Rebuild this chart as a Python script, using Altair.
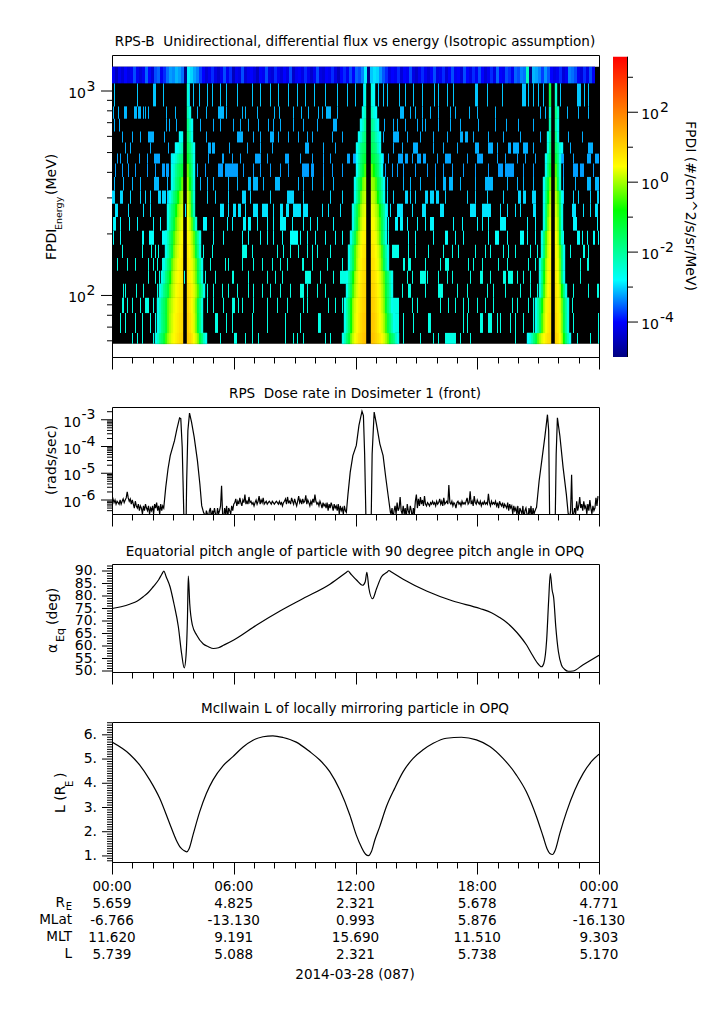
import altair as alt
import pandas as pd

alt.data_transformers.disable_max_rows()

FONT = "DejaVu Sans"
W = 487
BIN_H = 24 / 487

# ---------- energy channels (MeV), bottom to top ----------
ENERGY_EDGES = [58, 65.6, 82, 97.4, 114, 132, 152.4, 177, 207.5, 242, 281, 326, 380, 442, 494, 560, 634, 732, 841, 1090, 1315]
NOISE_LOG = [-2.5, -2.5, -2.5, -2.5, -2.5, -2.5, -2.55, -2.75, -2.85, -3.0, -3.1, -3.3, -3.45, -3.4, -3.35, -3.35, -3.35, -3.3, -3.2]

# single-count columns per channel: ints or (first,last) runs
SPIKES = [
 [20,25,30,41,108,(122,124),133,140,146,173,181,185,191,213,218,286,291,308,321,326,(333,343),348,358,403,465,478,486],
 [8,13,23,30,38,43,(103,105),114,120,140,155,173,188,(206,208),(283,286),291,301,(316,318),351,355,(368,370),(376,379),385,388,398,403,411,421,461,486],
 [(10,11),15,20,28,(33,36),41,95,101,111,(120,122),126,130,141,155,165,175,191,195,216,223,230,(281,286),300,305,328,336,343,351,356,365,373,381,400,405,416,421,460],
 [11,13,24,31,45,95,101,110,116,125,136,141,150,158,168,178,(188,191),195,205,213,290,(296,298),313,(326,330),345,355,375,381,393,408,418,425,461,476,(485,486)],
 [36,43,47,72,93,103,(120,121),136,155,163,170,(193,198),208,221,(228,233),295,300,(308,313),315,326,335,340,358,(368,370),378,(391,393),(396,400),405,411,418,468],
 [5,15,23,36,41,45,50,98,113,116,130,141,150,160,168,175,(190,191),200,215,230,(291,292),(296,298),313,328,(333,336),356,361,370,386,395,416,423,468,(475,476)],
 [10,30,39,43,46,91,100,(130,134),140,165,171,178,186,195,200,205,218,(280,286),296,303,316,331,340,346,363,373,378,391,396,403,418,425,458,(471,472),476],
 [1,8,(30,31),(37,41),(50,55),101,111,130,136,148,155,161,170,(178,185),188,195,203,213,223,230,276,296,303,321,(333,335),343,351,376,(383,386),395,(408,411),415,423,451,(465,467),470,475,(481,482),486],
 [(1,3),8,17,25,41,48,(91,94),101,115,120,(131,133),(136,138),145,155,161,(168,173),180,191,198,205,221,276,(283,285),(288,290),295,305,313,(318,321),341,350,365,370,376,(388,393),415,423,(461,464),485],
 [(3,5),16,31,38,55,73,(108,111),116,(121,123),(126,128),133,(141,145),(150,155),161,(168,170),(174,176),(181,188),(191,195),210,216,228,275,278,(285,290),300,(310,313),(328,331),(358,363),(370,378),388,395,403,408,(421,423),(460,463),471,478,(483,485)],
 [(0,2),(8,10),18,28,33,38,(46,48),(50,53),(55,56),95,103,116,(130,133),138,158,(175,181),191,218,230,275,281,(293,295),298,303,(313,315),(318,321),(324,326),333,355,363,375,391,(406,408),(411,413),(420,423),451,461,466,478,(485,486)],
 [2,11,20,28,(42,46),55,88,95,101,116,125,(136,138),(141,145),151,(163,167),186,191,200,211,221,275,291,298,308,323,(331,333),(337,340),348,363,(373,380),395,405,411,421,451,463,(475,478),(483,486)],
 [3,10,16,23,35,43,(50,52),(54,56),85,93,(106,110),(113,125),131,141,148,158,168,176,(190,196),(199,201),211,220,230,273,280,285,291,303,315,323,331,340,351,363,376,(386,390),(393,401),411,421,451,(461,465),(468,471),481],
 [5,8,15,27,35,(42,47),96,(110,111),120,128,(143,148),155,(173,176),188,200,211,218,(235,237),(241,245),271,276,(286,290),(293,295),300,(305,308),(311,313),325,(333,338),355,(365,370),385,393,405,413,423,(448,451),461,(475,478),(483,486)],
 [13,18,38,56,(96,98),(100,102),117,135,148,160,(193,196),211,223,281,290,(301,305),321,331,345,(363,366),(376,380),385,(396,398),(401,406),(411,415),421,458,(476,480)],
 [10,20,28,(36,41),52,94,(125,130),141,148,(158,161),166,176,186,195,200,220,230,271,(281,286),295,308,321,335,(348,350),(353,355),361,376,391,408,428,456,470],
 [2,7,54,57,64,88,101,108,121,128,136,146,156,161,168,181,191,205,(221,224),266,272,281,285,293,305,310,313,326,338,348,366,383,394,406,421],
 [1,6,(12,14),(22,24),(26,28),31,33,36,54,63,85,94,(106,111),114,130,133,145,162,167,181,189,196,206,210,(214,218),225,(288,291),298,303,310,318,326,338,343,357,365,383,428,433,455,466,476],
 [2,25,(41,43),51,77,81,87,95,100,108,114,125,140,148,158,166,176,185,193,202,213,225,235,243,251,262,266,271,275,287,293,301,310,322,326,335,341,(363,365),375,390,(410,413),416,421,426,431,443,448,(465,468),472,476],
]

# top channel, one value per 3 columns (log10 flux)
TOP_ROW = [
 -4.1,-4.5,-4.1,-4.3,-4.0,-4.2,-4.1,-3.85,-4.1,-4.3,-4.1,-3.75,-4.0,-4.3,-3.85,-3.75,-4.1,-3.95,
 -3.7,-3.45,-3.55,-3.3,-3.45,-3.7,-5.0,-2.9,-3.1,-3.4,-3.6,-3.9,-4.0,
 -4.3,-4.1,-3.95,-4.2,-4.4,-4.1,-3.85,-4.1,-3.95,-4.5,-4.1,-4.2,-3.85,-4.3,-4.1,-4.0,-4.2,-4.5,-4.0,-4.1,-3.85,-4.2,-4.3,-3.95,-4.1,
 -4.3,-4.0,-4.2,-3.85,-4.4,-4.1,-4.0,-4.2,-3.95,-4.1,-4.4,-4.1,-3.85,-4.2,-4.3,-4.0,-4.1,-3.95,-4.2,-4.5,-4.0,-3.95,-4.1,-3.85,-4.0,-3.75,-3.85,-3.6,
 -2.9,-5.0,-3.2,-3.0,-3.1,-3.5,-3.8,-3.95,-4.2,-4.0,-4.1,-3.95,-4.3,-4.0,-4.1,-3.85,-4.2,-4.4,-4.1,-3.95,-4.1,-4.3,-4.0,-3.85,-4.2,-4.1,-3.95,-4.3,-4.0,-3.85,-4.1,-4.0,-4.3,-3.85,-4.0,-4.2,-3.95,-4.1,-3.85,-4.0,-4.3,-4.1,-3.95,-4.2,-3.75,-4.0,-4.1,-3.85,-3.95,-4.1,-3.75,-3.85,
 -3.6,-3.7,-2.2,-5.0,-3.3,-3.4,-3.6,-3.9,-3.5,-3.8,-4.0,-4.2,-4.1,-3.95,-4.3,-4.1,-3.6,-3.7,-3.85,-4.1,-4.3,-3.95,-4.2,-3.85,-4.1,
]

# belt flanks: from the perigee gap outwards, 2 columns per value, channel by channel from the bottom
P1_L = [
 [1.2,1.1,.9,.7,.5,.3,0,-.3,-.7,-1,-1.4,-1.8,-2.2,-2.6],
 [1.1,1,.8,.6,.4,.1,-.2,-.6,-1,-1.4,-1.8,-2.2,-2.6],
 [1,.9,.7,.5,.3,0,-.3,-.6,-1,-1.4,-1.8,-2.2,-2.6],
 [.9,.8,.6,.4,.1,-.2,-.6,-1,-1.4,-1.8,-2.2,-2.6],
 [.9,.7,.5,.3,0,-.4,-.8,-1.2,-1.7,-2.2,-2.6],
 [.8,.6,.4,.1,-.2,-.6,-1.1,-1.6,-2.1,-2.6],
 [.7,.5,.2,-.1,-.5,-1,-1.5,-2.1,-2.6],
 [.5,.3,0,-.3,-.7,-1.1,-1.6,-2.1,-2.6],
 [.3,.1,-.2,-.6,-1,-1.5,-2,-2.6],
 [.1,-.1,-.4,-.8,-1.2,-1.6,-2.1,-2.6],
 [-.2,-.4,-.8,-1.2,-1.6,-2.1,-2.6],
 [-.6,-.9,-1.3,-1.7,-2.2,-2.7],
 [-1,-1.2,-1.5,-1.9,-2.3,-2.7],
 [-1.6,-1.8,-2,-2.3,-2.6,-2.9],
 [-2.1,-2.3,-2.6,-2.8],
 [-2.6,-2.8],
 [],[],[],
]
P1_R = [
 [1.4,1.2,.9,.5,.1,-.4,-1,-1.6,-2.2,-2.7],
 [1.3,1,.6,.2,-.4,-1,-1.7,-2.4],
 [1.2,.9,.5,.1,-.5,-1.1,-1.8,-2.5],
 [1.1,.9,.6,.2,-.2,-.7,-1.3,-1.9,-2.6],
 [1,.7,.4,0,-.5,-1.1,-1.8,-2.5],
 [.9,.6,.3,-.1,-.6,-1.2,-1.9,-2.6],
 [.8,.5,.1,-.4,-1,-1.7,-2.5],
 [.6,.3,-.1,-.6,-1.2,-1.9,-2.6],
 [.4,0,-.6,-1.4,-2.4],
 [.2,-.3,-1.1,-2.2],
 [0,-.5,-1.3,-2.4],
 [-.3,-.8,-1.5,-2.5],
 [-.6,-1,-1.7,-2.6],
 [-.9,-1.3,-1.9,-2.6],
 [-1.2,-1.6,-2.1,-2.7],
 [-1.5,-2,-2.6],
 [-1.8,-2.2,-2.7],
 [-2.1,-2.6],
 [-2.4],
]
P2_L = [
 [1.5,1.4,1.2,1,.7,.4,0,-.5,-1,-1.5,-2.1,-2.6],
 [1.4,1.3,1.1,.8,.5,.2,-.3,-.8,-1.4,-2,-2.6],
 [1.3,1.2,1,.7,.4,.1,-.3,-.8,-1.4,-2,-2.6],
 [1.2,1.1,.9,.6,.2,-.2,-.7,-1.3,-1.9,-2.6],
 [1.1,1,.8,.5,.1,-.3,-.8,-1.4,-2,-2.6],
 [1,.9,.6,.3,-.1,-.7,-1.3,-2,-2.6],
 [.9,.8,.5,.2,-.2,-.7,-1.3,-2,-2.6],
 [.7,.6,.3,-.1,-.6,-1.2,-1.9,-2.6],
 [.5,.3,0,-.5,-1.1,-1.8,-2.6],
 [.3,.1,-.2,-.7,-1.2,-1.9,-2.6],
 [0,-.2,-.6,-1.2,-1.9,-2.6],
 [-.3,-.5,-.9,-1.4,-2,-2.7],
 [-.7,-1,-1.4,-2,-2.7],
 [-1,-1.2,-1.6,-2.1,-2.7],
 [-1.3,-1.5,-1.8,-2.2,-2.7],
 [-1.6,-1.9,-2.3,-2.7],
 [-1.9,-2.3,-2.7],
 [-2.2,-2.6],
 [-2.5],
]
P2_R = [
 [1.5,1.4,1.2,1,.8,.5,.2,-.2,-.6,-1,-1.4,-1.8,-2.2,-2.6],
 [1.4,1.3,1.1,.8,.5,.2,-.2,-.7,-1.1,-1.6,-2.1,-2.6],
 [1.3,1.2,1,.7,.4,0,-.4,-.9,-1.5,-2,-2.6],
 [1.2,1.1,.9,.6,.3,-.1,-.5,-1,-1.5,-2,-2.6],
 [1.1,1,.8,.5,.2,-.2,-.6,-1.1,-1.6,-2.1,-2.6],
 [1,.9,.6,.3,-.1,-.6,-1.2,-1.9,-2.6],
 [.9,.8,.5,.2,-.2,-.7,-1.3,-2,-2.6],
 [.7,.6,.3,-.1,-.6,-1.2,-1.9,-2.6],
 [.5,.4,.1,-.3,-.7,-1.2,-1.9,-2.6],
 [.3,.2,-.1,-.4,-.8,-1.3,-1.9,-2.6],
 [0,-.1,-.4,-.8,-1.3,-1.9,-2.6],
 [-.3,-.4,-.7,-1.1,-1.5,-2.1,-2.7],
 [-.6,-.8,-1.1,-1.5,-2.1,-2.7],
 [-1,-1.1,-1.4,-1.8,-2.2,-2.7],
 [-1.3,-1.5,-1.8,-2.2,-2.7],
 [-1.6,-1.8,-2.1,-2.4,-2.8],
 [-1.9,-2.1,-2.4,-2.8],
 [-2.2,-2.5,-2.8],
 [-2.5,-2.8],
]
P3_L = [
 [1.1,1,.8,.5,.2,-.2,-.6,-1.1,-1.6,-2.1,-2.5,-2.8],
 [1,.8,.4,-.1,-.7,-1.3,-2,-2.6],
 [.9,.7,.3,-.2,-.8,-1.4,-2,-2.6],
 [.8,.5,0,-.7,-1.6,-2.5],
 [.7,.4,-.1,-.8,-1.7,-2.6],
 [.6,.3,-.2,-.9,-1.7,-2.6],
 [.5,.1,-.6,-1.5,-2.5],
 [.4,0,-.7,-1.6,-2.6],
 [.2,-.4,-1.3,-2.5],
 [0,-.6,-1.4,-2.5],
 [-.2,-.8,-1.6,-2.6],
 [-.5,-1,-1.8,-2.7],
 [-.9,-1.6,-2.6],
 [-1.3,-1.9,-2.7],
 [-1.6,-2.5],
 [-1.9,-2.6],
 [-2.1],
 [-2.3],
 [-1.2],
]
P3_R = [
 [1.2,1,.5,-.1,-.8,-1.5,-2.1,-2.7],
 [1.1,.8,.3,-.4,-1.1,-1.9,-2.6],
 [1,.7,.2,-.5,-1.2,-1.9,-2.6],
 [.9,.6,0,-.8,-1.7,-2.6],
 [.8,.4,-.4,-1.5,-2.6],
 [.7,.3,-.5,-1.6,-2.6],
 [.6,.2,-.6,-1.6,-2.6],
 [.5,0,-1,-2.4],
 [.3,-.2,-1.2,-2.5],
 [.1,-.4,-1.3,-2.5],
 [-.1,-.6,-1.4,-2.6],
 [-.4,-1.1,-2.4],
 [-.7,-1.4,-2.5],
 [-1,-1.6,-2.6],
 [-1.4,-1.9,-2.4,-2.8],
 [-1.7,-2.5],
 [-2,-2.6],
 [-1.8,-2.3],
 [-2.3],
]
GAP_1 = [71, 75]
GAP_2 = [254, 259]
GAP_3 = [439, 443]

COLOR_VALUES = [-5, -4, -2.8, -1.8, -0.8, 0.45, 3.59]
COLOR_RANGE = ["#000080", "#0000ff", "#00ffff", "#00ff80", "#00ff00", "#ffff00", "#ff0000"]
CBAR_OFFSETS = [0, 0.1164, 0.2561, 0.3725, 0.4889, 0.6345, 1]

# ---------- dosimeter (1e-6 rads/s every 0.05 h outside the belts) ----------
NOISE_A = [1.5,1.1,.8,1,.7,.9,.8,.7,1,.7,.9,1.1,.8,1,1.2,2,1.2,.9,1.1,.7,1,.7,.5,.9,.6,.5,.7,.4,.6,.5,.3,.6,.4,.7,.5,.4,.6,.3,.5,.4,.6,.3,.7,.5,.8,.4,.6,.3,.7,.4,.6,.5]
NOISE_B = [.3,.2,.4,.3,.2,.4,.5,.2,.4,.3,.5,.3,.2,.5,.3,.4,.6,3.4,.3,.2,.5,.3,.6,.2,.5,.4,.3,.6,.4,.7,
 .8,1.1,.6,.9,.7,1.2,.8,.6,1,.8,1.6,.7,.9,.7,1.3,.8,.9,.7,.8,.6,.8,1,.7,.9,1.4,.7,1,.8,1.2,.7,.8,.9,.7,.8,.9,.8,.7,.9,.8,.7,.8,.9,.8,.7,.9,.7,.8,.6,.8,.9,1.1,.7,1.3,.8,.9,.7,1.2,.9,.7,1.1,.8,.6,.9,1.4,.8,1,.7,1.1,.8,.9,1.5,.7,1,.8,.6,.9,.7,1.1,.8,1.6,.9,.7,.8,.6,.9,.7,.5,.8,.6,.7,.5,.8,.4,.7,.5,.8,.6,.4,.7,.5,
 .6,.4,.7,.3,.6,.4,.5,.3,.6,.4]
NOISE_C = [.3,.5,.2,.4,.6,.3,.8,.4,.5,1.3,.4,.3,.6,.3,.5,.2,.7,.4,.3,.6,.4,.2,.5,.3,.9,
 1.6,.5,1.1,.6,1.3,.7,1,.6,1.4,.7,.6,.8,.7,.6,.8,.7,.9,.7,.8,.6,.9,.7,.8,1.1,.7,.9,.6,1.2,.7,.8,.9,.7,3.6,.8,.7,.9,.6,.8,.7,.5,.8,.9,.7,.8,.6,.9,.7,.8,.7,.9,1.2,.7,.8,2.1,.7,.9,.6,1.4,.8,.7,1,.8,.7,.9,.6,.8,.7,.9,.7,.8,.7,1.7,.8,.6,.9,.7,.8,.7,.9,.6,.8,.5,.9,.7,.6,.8,.5,.7,.6,.5,.8,.4,.7,.5,.6,
 .3,.6,.4,.5,.3,.6,.2,.5,.4,.3,.6,.2,.4,.5,.3,.2,.5,.3,.6,.2,.5,.3,.4,.5]
NOISE_D = [.3,.2,.4,8.7,.2,.3,.5,.3,.9,.4,.6,1.3,.5,.7,.4,.9,.5,.6,.3,.7,.4,1,.5,.3,.6,.4,.5,1.2,.6,1.4]
NOISE_STARTS = [0.0, 4.55, 13.75, 22.5]
BELT_H = [2.65,2.76,2.87,3.08,3.20,3.33,3.39,3.46,3.50,3.55,3.65,3.68,3.74,3.82,3.92,4.05,4.21,4.33,4.42,4.51,
 11.55,11.63,11.74,11.87,12.04,12.17,12.32,12.39,12.45,12.52,12.77,12.82,12.92,13.03,13.2,13.36,13.49,13.61,13.72,
 20.92,21.05,21.18,21.33,21.46,21.52,21.57,21.84,21.89,21.95,22.07,22.23,22.39,22.48]
BELT_LOG = [-5.52,-4.84,-4.34,-3.78,-3.34,-2.93,-2.96,-4.03,-5.28,-6.9,-6.9,-5.28,-3.4,-2.75,-3.09,-3.65,-4.53,-5.4,-6.21,-6.46,
 -6.46,-5.78,-4.96,-4.34,-3.96,-3.21,-2.68,-2.84,-4.28,-6.9,-6.9,-4.28,-2.71,-3.15,-3.9,-4.34,-5.15,-5.84,-6.46,
 -6.28,-5.28,-4.53,-3.65,-2.81,-3.4,-6.9,-6.9,-4.28,-2.93,-3.59,-4.78,-5.78,-6.5]

# ---------- pitch angle ----------
PA_H = [0,.45,.9,1.25,1.54,1.8,2.03,2.3,2.46,2.56,2.66,2.86,3.05,3.27,3.43,3.56,3.65,3.72,3.76,3.83,3.96,4.17,4.5,4.75,5,5.25,5.5,6,7.13,8.28,9.42,10.74,11.54,11.64,11.74,12.05,12.35,12.48,12.56,12.66,12.84,13.04,13.28,13.55,13.65,13.75,14.35,15.5,16.8,18.13,18.7,19.1,19.45,19.77,20.1,20.43,20.7,20.92,21.17,21.28,21.42,21.52,21.6,21.69,21.77,21.87,22,22.15,22.3,22.48,22.72,23.2,24]
PA_V = [75,75.7,76.8,78,79.7,81.5,83.7,86.5,88.8,90,87.9,83.7,77,67.7,57,51.2,56.4,71.7,88,77,68.4,64.4,60.8,59.7,59,59.3,60.3,62.4,68.4,74,79,84.7,89.4,90,89.1,86.4,84.3,85.7,89.5,83.1,78.9,83,87.7,89.5,90.2,89.7,86.7,82,78,75,73.3,71.4,69.4,67,64,60.4,56.6,53.7,51.7,53,62.4,78.4,89,82.4,79,67.7,57.7,52.4,50.7,49.9,50,52.4,56.3]

# ---------- McIlwain L ----------
L_H = [0,.87,1.36,1.86,2.35,2.84,3.17,3.37,3.53,3.68,3.8,3.99,4.32,4.65,4.98,5.47,5.96,6.46,6.95,7.44,7.93,8.43,9.08,9.74,10.24,10.73,11.23,11.72,12.04,12.29,12.5,12.64,12.78,12.95,13.19,13.52,13.93,14.35,14.84,15.33,15.83,16.48,17.22,17.96,18.62,19.27,19.93,20.42,20.92,21.25,21.44,21.58,21.71,21.84,22.07,22.4,22.81,23.22,23.63,24]
L_V = [5.7,5.2,4.76,4.14,3.38,2.34,1.65,1.35,1.23,1.17,1.3,1.86,2.82,3.58,4.14,4.72,5.1,5.5,5.78,5.92,5.96,5.89,5.7,5.31,4.96,4.48,3.72,2.69,1.86,1.37,1.07,1.01,1.17,1.65,2.2,3.03,3.79,4.48,5.03,5.38,5.65,5.86,5.9,5.79,5.52,5.03,4.34,3.65,2.62,1.79,1.3,1.1,1.06,1.23,1.93,2.82,3.72,4.41,4.9,5.2]

# ---------- annotation rows ----------
HOUR_MAJOR = [0, 6, 12, 18, 24]
HOUR_MINOR = [1,2,3,4,5,7,8,9,10,11,13,14,15,16,17,19,20,21,22,23]
ROW_H = [0, 6, 12, 18, 24]
ROW_TIME = ["00:00", "06:00", "12:00", "18:00", "00:00"]
ROW_RE = ["5.659", "4.825", "2.321", "5.678", "4.771"]
ROW_MLAT = ["-6.766", "-13.130", "0.993", "5.876", "-16.130"]
ROW_MLT = ["11.620", "9.191", "15.690", "11.510", "9.303"]
ROW_L = ["5.739", "5.088", "2.321", "5.738", "5.170"]

E_MINOR = [60,70,80,90,200,300,400,500,600,700,800,900]
E_MAJOR = [100, 1000]
E_EXP = ["2", "3"]
CB_MINOR = [-3,-1,1,3]
CB_MAJOR = [-4,-2,0,2]
CB_EXP = ["-4","-2","0","2"]
D_MINOR = [4e-7,5e-7,6e-7,7e-7,8e-7,9e-7,2e-6,3e-6,4e-6,5e-6,6e-6,7e-6,8e-6,9e-6,2e-5,3e-5,4e-5,5e-5,6e-5,7e-5,8e-5,9e-5,2e-4,3e-4,4e-4,5e-4,6e-4,7e-4,8e-4,9e-4,2e-3]
D_MAJOR = [1e-6,1e-5,1e-4,1e-3]
D_EXP = ["-6","-5","-4","-3"]
PA_MAJOR = [50,55,60,65,70,75,80,85,90]
PA_LABELS = ["50.","55.","60.","65.","70.","75.","80.","85.","90."]
PA_MINOR = [51,52,53,54,56,57,58,59,61,62,63,64,66,67,68,69,71,72,73,74,76,77,78,79,81,82,83,84,86,87,88,89,91,92]
L_MAJOR = [1,2,3,4,5,6]
L_LABELS = ["1.","2.","3.","4.","5.","6."]
L_MINOR = [.8,.9,1.1,1.2,1.3,1.4,1.5,1.6,1.7,1.8,1.9,2.1,2.2,2.3,2.4,2.5,2.6,2.7,2.8,2.9,3.1,3.2,3.3,3.4,3.5,3.6,3.7,3.8,3.9,4.1,4.2,4.3,4.4,4.5,4.6,4.7,4.8,4.9,5.1,5.2,5.3,5.4,5.5,5.6,5.7,5.8,5.9,6.1,6.2,6.3,6.4,6.5]

XS = alt.Scale(domain=[0, 24], nice=False, zero=False)
def xenc():
    return alt.X("t:Q", scale=XS, axis=alt.Axis(values=HOUR_MAJOR, labels=False, title=None, grid=False, orient="bottom", tickSize=12, ticks=True))

def ghost():
    """Invisible mark that only carries the short (minor) ticks of the time axis."""
    df = pd.DataFrame({"t": [12]})
    return alt.Chart(df).mark_point(opacity=0).encode(
        x=alt.X("t:Q", scale=XS, axis=alt.Axis(values=HOUR_MINOR, labels=False, title=None, grid=False, orient="bottom", tickSize=6, domain=False, ticks=True)),
        y=alt.value(0))

def yticks(scale, values, x0, x1):
    return alt.Chart(pd.DataFrame({"v": values})).mark_rule(color="black", strokeWidth=1).encode(
        x=alt.value(x0), x2=alt.value(x1), y=alt.Y("v:Q", scale=scale, axis=None))

def text(s, x, y, size=13.55, align="center", angle=0):
    return alt.Chart(pd.DataFrame({"s": [s]})).mark_text(font=FONT, fontSize=size, align=align, baseline="middle",
        angle=angle, color="black").encode(x=alt.value(x), y=alt.value(y), text="s:N")

def ylabels(values, labels, scale):
    return alt.Chart(pd.DataFrame({"v": values, "s": labels})).mark_text(font=FONT, fontSize=14, align="right", baseline="middle", color="black").encode(
        x=alt.value(-15), y=alt.Y("v:Q", scale=scale, axis=None), text="s:N")

def ten_layers(values, exps, scale, x10, xexp):
    a = alt.Chart(pd.DataFrame({"v": values, "ten": ["10"]*len(values)})).mark_text(font=FONT, fontSize=14, align="right", baseline="middle", dy=3, color="black").encode(
        x=alt.value(x10), y=alt.Y("v:Q", scale=scale, axis=None), text="ten:N")
    b = alt.Chart(pd.DataFrame({"v": values, "x": exps})).mark_text(font=FONT, fontSize=14, align="left", baseline="middle", dy=-4.5, color="black").encode(
        x=alt.value(xexp), y=alt.Y("v:Q", scale=scale, axis=None), text="x:N")
    return [a, b]

# ---------- panel 1 cells ----------
cells, belts = [], []
for r, lst in enumerate(SPIKES):
    for s in lst:
        a, b = s if isinstance(s, tuple) else (s, s)
        cells.append(dict(t=a*BIN_H, t2=(b+1)*BIN_H, e=ENERGY_EDGES[r], e2=ENERGY_EDGES[r+1], v=NOISE_LOG[r]))
for i, v in enumerate(TOP_ROW):
    cells.append(dict(t=3*i*BIN_H, t2=min(3*i+3, W)*BIN_H, e=ENERGY_EDGES[19], e2=ENERGY_EDGES[20], v=v))
for tabL, tabR, gap in [(P1_L, P1_R, GAP_1), (P2_L, P2_R, GAP_2), (P3_L, P3_R, GAP_3)]:
    for r in range(19):
        for i, v in enumerate(tabL[r]):
            belts.append(dict(t=(gap[0]-2*i-2)*BIN_H, t2=(gap[0]-2*i)*BIN_H, e=ENERGY_EDGES[r], e2=ENERGY_EDGES[r+1], v=v))
        for i, v in enumerate(tabR[r]):
            belts.append(dict(t=(gap[1]+2*i)*BIN_H, t2=(gap[1]+2*i+2)*BIN_H, e=ENERGY_EDGES[r], e2=ENERGY_EDGES[r+1], v=v))

YE = alt.Scale(type="log", domain=[50, 1500], nice=False)
CS = alt.Scale(domain=COLOR_VALUES, range=COLOR_RANGE, clamp=True)

bg = alt.Chart(pd.DataFrame([dict(t=0, t2=24, e=ENERGY_EDGES[0], e2=ENERGY_EDGES[-1])])).mark_rect(color="black", clip=True).encode(
    x=xenc(), x2="t2:Q", y=alt.Y("e:Q", scale=YE, axis=None), y2="e2:Q")
c1 = alt.Chart(pd.DataFrame(cells)).mark_rect().encode(
    x=alt.X("t:Q", scale=XS, axis=None), x2="t2:Q", y=alt.Y("e:Q", scale=YE, axis=None), y2="e2:Q",
    color=alt.Color("v:Q", scale=CS, legend=None))
c2 = alt.Chart(pd.DataFrame(belts)).mark_rect(strokeWidth=0.4).encode(
    x=alt.X("t:Q", scale=XS, axis=None), x2="t2:Q", y=alt.Y("e:Q", scale=YE, axis=None), y2="e2:Q",
    color=alt.Color("v:Q", scale=CS, legend=None), stroke=alt.Stroke("v:Q", scale=CS, legend=None))

heat = alt.layer(bg, ghost(), c1, c2, yticks(YE, E_MAJOR, -11, 0), yticks(YE, E_MINOR, -5, 0),
    *ten_layers(E_MAJOR, E_EXP, YE, -26, -25.5),
    text("RPS-B\u00a0 Unidirectional, differential flux vs energy (Isotropic assumption)", 243, -13.5),
    text("FPDI", -60.5, 205, 14, "left", 270), text("Energy", -53.5, 175, 9.5, "left", 270), text("(MeV)", -60.5, 140, 14, "left", 270)
    ).resolve_axis(x="independent")

YC = alt.Scale(domain=[-5, 3.637], nice=False, zero=False)
grad = alt.Gradient(gradient="linear", x1=0, x2=0, y1=1, y2=0,
    stops=[alt.GradientStop(offset=o, color=c) for o, c in zip(CBAR_OFFSETS, COLOR_RANGE)])
cb = alt.Chart(pd.DataFrame([dict(lo=-5, hi=3.59)])).mark_rect(fill=grad).encode(
    x=alt.value(501), x2=alt.value(515), y=alt.Y("lo:Q", scale=YC, axis=None), y2="hi:Q")
cb_edge = alt.Chart(pd.DataFrame([dict(lo=-5, hi=3.59)])).mark_rule(color="black", strokeWidth=1).encode(
    x=alt.value(515.5), y=alt.Y("lo:Q", scale=YC, axis=None), y2="hi:Q")
cbar = alt.layer(cb, cb_edge, yticks(YC, CB_MAJOR, 515, 526), yticks(YC, CB_MINOR, 515, 521),
    *ten_layers(CB_MAJOR, CB_EXP, YC, 547, 548),
    text("FPDI (#/cm^2/s/sr/MeV)", 578, 151, 14, "center", 90))

p1 = alt.layer(heat, cbar).resolve_scale(y="independent", color="independent").properties(width=W, height=302)

# ---------- panel 2 ----------
d_t, d_v = [], []
for start, seg in zip(NOISE_STARTS, [NOISE_A, NOISE_B, NOISE_C, NOISE_D]):
    for i, v in enumerate(seg):
        d_t.append(start + i*0.05); d_v.append(v*1e-6)
for h, lg in zip(BELT_H, BELT_LOG):
    d_t.append(h); d_v.append(10.0**lg)
dose = pd.DataFrame({"t": d_t, "v": d_v}).sort_values("t")
YD = alt.Scale(type="log", domain=[3e-7, 3e-3], nice=False)
l2 = alt.Chart(dose).mark_line(color="black", strokeWidth=1.2, clip=True).encode(
    x=xenc(), y=alt.Y("v:Q", scale=YD, axis=None), order="t:Q")
p2 = alt.layer(l2, ghost(), yticks(YD, D_MAJOR, -11, 0), yticks(YD, D_MINOR, -5, 0), *ten_layers(D_MAJOR, D_EXP, YD, -31, -30.5),
    text("RPS\u00a0 Dose rate in Dosimeter 1 (front)", 243, -13),
    text("(rads/sec)", -60, 53, 14, "center", 270)).resolve_axis(x="independent").properties(width=W, height=107)

# ---------- panel 3 ----------
YP = alt.Scale(domain=[49.6, 92.8], nice=False, zero=False)
l3 = alt.Chart(pd.DataFrame({"t": PA_H, "v": PA_V})).mark_line(color="black", strokeWidth=1.2, clip=True, interpolate="monotone").encode(
    x=xenc(), y=alt.Y("v:Q", scale=YP, axis=None))
p3 = alt.layer(l3, ghost(), yticks(YP, PA_MAJOR, -10, 0), yticks(YP, PA_MINOR, -5, 0), ylabels(PA_MAJOR, PA_LABELS, YP),
    text("Equatorial pitch angle of particle with 90 degree pitch angle in OPQ", 243, -12),
    text("\u03b1", -59, 89, 14, "left", 270), text("Eq", -51, 78, 11, "left", 270), text("(deg)", -59, 61, 14, "left", 270)
    ).resolve_axis(x="independent").properties(width=W, height=108)

# ---------- panel 4 ----------
YL = alt.Scale(domain=[0.75, 6.53], nice=False, zero=False)
l4 = alt.Chart(pd.DataFrame({"t": L_H, "v": L_V})).mark_line(color="black", strokeWidth=1.2, clip=True, interpolate="monotone").encode(
    x=xenc(), y=alt.Y("v:Q", scale=YL, axis=None))

def row(vals, y):
    df = pd.DataFrame({"t": ROW_H, "s": vals})
    return alt.Chart(df).mark_text(font=FONT, fontSize=13.55, baseline="middle", color="black").encode(
        x=alt.X("t:Q", scale=XS, axis=None), y=alt.value(y), text="s:N")

p4 = alt.layer(l4, ghost(), yticks(YL, L_MAJOR, -10, 0), yticks(YL, L_MINOR, -5, 0), ylabels(L_MAJOR, L_LABELS, YL),
    text("McIlwain L of locally mirroring particle in OPQ", 243, -13.5),
    text("L (R", -51, 91, 14, "left", 270), text("E", -42, 65, 10, "left", 270), text(")", -51, 56, 14, "left", 270),
    row(ROW_TIME, 165), row(ROW_RE, 182.3), row(ROW_MLAT, 199.3), row(ROW_MLT, 216.3), row(ROW_L, 233.3),
    text("R", -47, 181.3, 13.55, "right"), text("E", -40, 185.3, 10, "right"),
    text("MLat", -40, 198.3, 13.55, "right"), text("MLT", -40, 215.3, 13.55, "right"), text("L", -40, 232.3, 13.55, "right"),
    text("2014-03-28 (087)", 243, 253)
    ).resolve_axis(x="independent").properties(width=W, height=140)

chart = alt.vconcat(p1, p2, p3, p4, spacing=50, bounds="flush", padding={"left": 30, "top": 26, "right": 5, "bottom": 5},
                    background="white").configure_view(stroke="black", strokeWidth=1).configure_axis(
    tickColor="black", domainColor="black", tickWidth=1, domainWidth=1)

chart.save("out.html", embed_options={"renderer": "svg", "actions": False})
